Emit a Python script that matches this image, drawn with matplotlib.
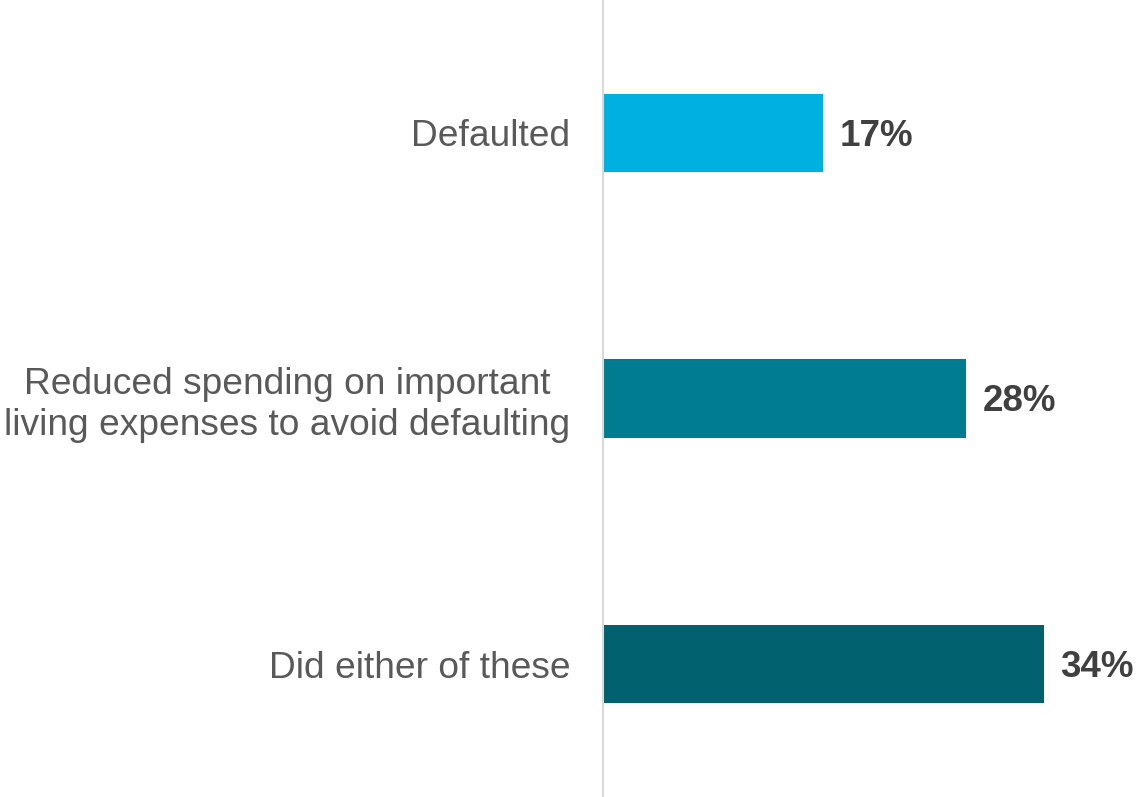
import matplotlib
matplotlib.use("Agg")
import matplotlib.pyplot as plt

plt.rcParams['font.family'] = ['Liberation Sans', 'DejaVu Sans']

categories = ['Defaulted',
              'Reduced spending on important\nliving expenses to avoid defaulting',
              'Did either of these']
values = [17, 28, 34]
colors = ['#00B0E0', '#007C91', '#02616F']

fig = plt.figure(figsize=(11.37, 7.97), dpi=100)
ax = fig.add_axes([603 / 1137, 0, 1 - 603 / 1137, 1])

pos = list(range(len(categories)))
ax.barh(pos, values, height=0.296, color=colors)
ax.set_xlim(0, (1137 - 603) / 12.97)
ax.set_ylim(2.5, -0.5)

for p, v in zip(pos, values):
    ax.text(v + 1.25, p + 0.012, '%d%%' % v, va='center', ha='left',
            fontsize=26.5, fontweight='bold', color='#404040', clip_on=False)

ax.set_yticks(pos)
ax.set_yticklabels(categories, fontsize=26.7, color='#595959', ha='right',
                   multialignment='center')
ax.tick_params(axis='y', length=0, pad=23.5)
ax.set_xticks([])

for s in ['top', 'right', 'bottom']:
    ax.spines[s].set_visible(False)
ax.spines['left'].set_color('#D9D9D9')
ax.spines['left'].set_linewidth(1.5)

fig.savefig('out.png', dpi=100)
